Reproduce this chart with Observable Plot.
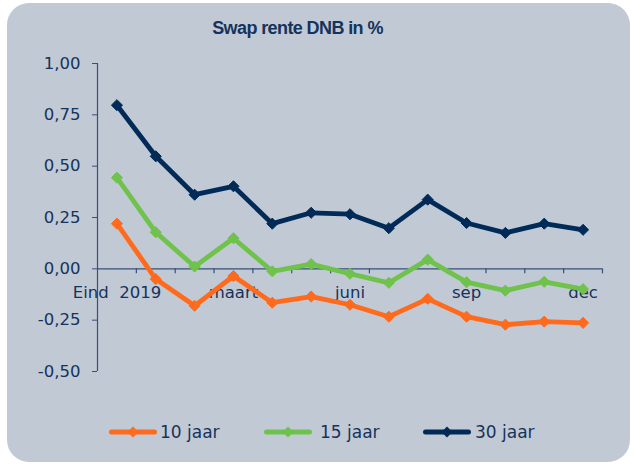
<!DOCTYPE html>
<html>
<head>
<meta charset="utf-8">
<script src="https://cdn.jsdelivr.net/npm/d3@7"></script>
<script src="https://cdn.jsdelivr.net/npm/@observablehq/plot@0.6"></script>
<style>
  html, body { margin: 0; padding: 0; background: #ffffff; }
  #page { position: relative; width: 635px; height: 465px; overflow: hidden; }
  #frame { position: absolute; left: 7px; top: 3px; width: 623px; height: 459px; border-radius: 22px; background: #c1c9d4; }
  #title { position: absolute; left: 0; top: 19px; width: 595px; text-align: center; font: bold 18px "Liberation Sans", Arial, sans-serif; line-height: 18px; letter-spacing: -0.6px; color: #15335c; }
  #chart { position: absolute; left: 0; top: 0; }
  #legend { position: absolute; left: 0; top: 420px; width: 635px; height: 24px; font: 17px "DejaVu Sans", sans-serif; color: #15335c; }
  .item { position: absolute; top: 0; height: 24px; display: flex; align-items: center; }
  .lbl { position: absolute; top: 0; line-height: 24px; white-space: nowrap; }
</style>
</head>
<body>
<div id="page">
  <div id="frame"></div>
  <div id="title"></div>
  <div id="chart"></div>
  <div id="legend"></div>
</div>
<script>
const title = "Swap rente DNB in %";
const categories = ["Eind 2019", "jan", "feb", "maart", "apr", "mei", "juni", "juli", "aug", "sep", "okt", "nov", "dec"];
const shownLabels = ["Eind 2019", "maart", "juni", "sep", "dec"];
const seriesNames = ["10 jaar", "15 jaar", "30 jaar"];
const s10 = [0.22, -0.05, -0.18, -0.035, -0.165, -0.135, -0.175, -0.233, -0.146, -0.233, -0.272, -0.257, -0.263];
const s15 = [0.444, 0.178, 0.011, 0.149, -0.012, 0.023, -0.024, -0.068, 0.045, -0.065, -0.106, -0.063, -0.099];
const s30 = [0.797, 0.548, 0.361, 0.402, 0.22, 0.273, 0.266, 0.198, 0.337, 0.223, 0.175, 0.22, 0.19];
const yTicks = [-0.5, -0.25, 0, 0.25, 0.5, 0.75, 1.0];
const colors = ["#ff6a1c", "#6fc24b", "#002a57"];

const textColor = "#15335c";
const axisColor = "#34517a";

const seriesValues = [s10, s15, s30];
const table = [];
seriesNames.forEach((name, si) => {
  seriesValues[si].forEach((v, i) => table.push({series: name, i, cat: categories[i], value: v}));
});
const idx = categories.map((c, i) => i);
const boundaries = idx.map(i => i + 0.5);
const fmt = d => d.toFixed(2).replace(".", ",");

const diamond = d3.symbolDiamond2 || d3.symbolDiamond;

const plot = Plot.plot({
  width: 635,
  height: 400,
  marginLeft: 97,
  marginRight: 33,
  marginTop: 63,
  marginBottom: 29,
  style: {background: "transparent", fontFamily: "DejaVu Sans", fontSize: "16.5px", color: textColor},
  x: {type: "linear", domain: [-0.5, categories.length - 0.5], axis: null},
  y: {domain: [-0.5, 1.0], axis: null},
  color: {domain: seriesNames, range: colors},
  marks: [
    Plot.axisY({ticks: yTicks, tickFormat: fmt, tickSize: 5, tickPadding: 12, stroke: axisColor, fill: textColor, fontSize: 16.5, label: null}),
    Plot.ruleX([-0.5], {y1: -0.5, y2: 1.0, stroke: axisColor, strokeWidth: 1.2}),
    Plot.ruleY([0], {x1: -0.5, x2: categories.length - 0.5, stroke: axisColor, strokeWidth: 1.2}),
    Plot.ruleX(boundaries, {x: d => d, y1: 0, y2: 0, insetBottom: -5, stroke: axisColor, strokeWidth: 1.2}),
    Plot.text(idx.filter(i => shownLabels.includes(categories[i])), {
      x: i => i, y: 0, text: i => categories[i].replace(" ", "\u00a0\u00a0"),
      lineAnchor: "top", dy: 17, fill: textColor, fontSize: 16.5, textAnchor: "middle"
    }),
    Plot.line(table, {x: "i", y: "value", z: "series", stroke: "series", strokeWidth: 4.8, strokeLinejoin: "round", strokeLinecap: "round"}),
    Plot.dot(table, {x: "i", y: "value", fill: "series", stroke: "series", symbol: diamond, r: 5, strokeWidth: 1})
  ]
});
document.getElementById("chart").appendChild(plot);
document.getElementById("title").textContent = title;

// legend (HTML, below the chart area)
const legend = document.getElementById("legend");
const swatchLefts = [109, 264, 423];
const labelLefts = [160, 320, 475];
seriesNames.forEach((name, k) => {
  const sw = document.createElement("div");
  sw.className = "item";
  sw.style.left = swatchLefts[k] + "px";
  sw.innerHTML = `<svg width="48" height="24"><line x1="2.5" x2="45.5" y1="12" y2="12" stroke="${colors[k]}" stroke-width="5" stroke-linecap="round"/><path d="M24,6.5L29.5,12L24,17.5L18.5,12Z" fill="${colors[k]}"/></svg>`;
  legend.appendChild(sw);
  const lb = document.createElement("div");
  lb.className = "lbl";
  lb.style.left = labelLefts[k] + "px";
  lb.textContent = name;
  legend.appendChild(lb);
});
</script>
</body>
</html>
